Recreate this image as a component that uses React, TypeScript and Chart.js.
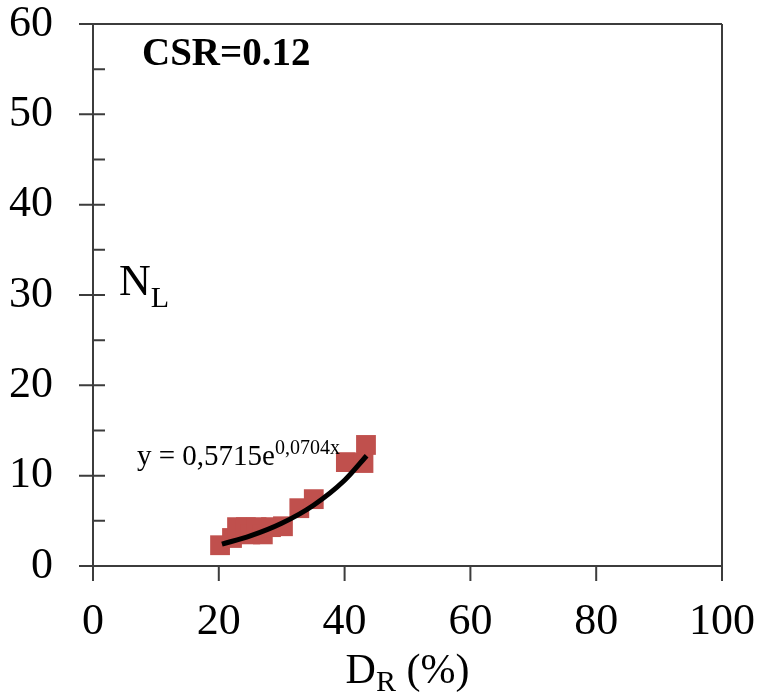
import React, { useEffect, useRef } from "react";
import { Chart, registerables } from "chart.js";

Chart.register(...registerables);

// Data
const drValues = [20.2, 22.1, 22.9, 24.3, 25.0, 26.0, 27.0, 28.3, 30.2, 32.8, 35.1, 40.2, 43.0, 43.4];
const nlValues = [2.3, 3.1, 4.3, 4.3, 3.5, 4.3, 3.5, 4.3, 4.4, 6.4, 7.4, 11.5, 11.4, 13.4];

// Trend line (y = 0,5715e^0,0704x) points
const trendX = [20.5, 25, 30, 35, 40, 43.5];
const trendY = [2.42, 3.33, 4.73, 6.7, 9.49, 12.2];

const xTicks = [0, 20, 40, 60, 80, 100];
const yTicks = [0, 10, 20, 30, 40, 50, 60];
const yMinorTicks = [5, 15, 25, 35, 45, 55];

const csrLabel = "CSR=0.12";
const eqMain = "y = 0,5715e";
const eqSup = "0,0704x";

const FONT = "'Liberation Serif', 'Times New Roman', serif";
const AXIS_COLOR = "#3c3c3c";

const framePlugin = {
  id: "framePlugin",
  beforeDatasetsDraw(chart: any) {
    const { ctx, chartArea, scales } = chart;
    const xs = scales.x;
    const ys = scales.y;
    const left = chartArea.left;
    const right = chartArea.right;
    const top = chartArea.top;
    const bottom = chartArea.bottom;
    ctx.save();
    ctx.strokeStyle = AXIS_COLOR;
    ctx.lineWidth = 2;
    ctx.beginPath();
    ctx.moveTo(left, top);
    ctx.lineTo(right, top);
    ctx.moveTo(right, top);
    ctx.lineTo(right, bottom);
    ctx.moveTo(left, top);
    ctx.lineTo(left, bottom);
    ctx.moveTo(left - 14, bottom);
    ctx.lineTo(right, bottom);
    yTicks.forEach((v) => {
      const p = ys.getPixelForValue(v);
      ctx.moveTo(left - 14, p);
      ctx.lineTo(left + 12, p);
    });
    yMinorTicks.forEach((v) => {
      const p = ys.getPixelForValue(v);
      ctx.moveTo(left, p);
      ctx.lineTo(left + 12, p);
    });
    xTicks.forEach((v) => {
      const p = xs.getPixelForValue(v);
      ctx.moveTo(p, bottom);
      ctx.lineTo(p, bottom + 15);
    });
    ctx.stroke();
    ctx.restore();
  },
  afterDraw(chart: any) {
    const { ctx, chartArea } = chart;
    ctx.save();
    ctx.fillStyle = "#000";
    ctx.textBaseline = "alphabetic";
    ctx.textAlign = "left";

    ctx.font = `bold 39px ${FONT}`;
    ctx.fillText(csrLabel, 142, 65);

    ctx.font = `44px ${FONT}`;
    ctx.fillText("N", 119, 295);
    const nW = ctx.measureText("N").width;
    ctx.font = `30px ${FONT}`;
    ctx.fillText("L", 119 + nW, 307);

    ctx.font = `29px ${FONT}`;
    ctx.fillText(eqMain, 137, 465);
    const eW = ctx.measureText(eqMain).width;
    ctx.font = `20px ${FONT}`;
    ctx.fillText(eqSup, 137 + eW, 454);

    ctx.font = `42px ${FONT}`;
    const dW = ctx.measureText("D").width;
    const restW = ctx.measureText(" (%)").width;
    ctx.font = `30px ${FONT}`;
    const rW = ctx.measureText("R").width;
    const total = dW + rW + restW;
    const cx = (chartArea.left + chartArea.right) / 2;
    const x0 = cx - total / 2;
    ctx.font = `42px ${FONT}`;
    ctx.fillText("D", x0, 683);
    ctx.font = `30px ${FONT}`;
    ctx.fillText("R", x0 + dW, 691);
    ctx.font = `42px ${FONT}`;
    ctx.fillText(" (%)", x0 + dW + rW, 683);
    ctx.restore();
  },
};

const zeroPad = (scale: any) => {
  scale.paddingTop = 0;
  scale.paddingBottom = 0;
  scale.paddingLeft = 0;
  scale.paddingRight = 0;
};

export default function App() {
  const canvasRef = useRef<HTMLCanvasElement | null>(null);

  useEffect(() => {
    if (!canvasRef.current) return;
    const points = drValues.map((x, i) => ({ x, y: nlValues[i] }));
    const trend = trendX.map((x, i) => ({ x, y: trendY[i] }));
    const chart = new Chart(canvasRef.current, {
      type: "scatter",
      data: {
        datasets: [
          {
            label: "NL",
            data: points,
            pointStyle: "rect",
            pointRadius: 14,
            pointHoverRadius: 14,
            backgroundColor: "#c0504d",
            borderColor: "#c0504d",
            borderWidth: 0,
            order: 2,
          },
          {
            label: "trend",
            type: "line",
            data: trend,
            borderColor: "#000",
            borderWidth: 5,
            pointRadius: 0,
            cubicInterpolationMode: "monotone",
            fill: false,
            order: 1,
          } as any,
        ],
      },
      options: {
        animation: false,
        responsive: true,
        maintainAspectRatio: false,
        layout: { padding: { left: 0, right: 39, top: 24, bottom: 0 } },
        plugins: {
          legend: { display: false },
          tooltip: { enabled: false },
          title: { display: false },
        },
        scales: {
          x: {
            type: "linear",
            min: 0,
            max: 100,
            grid: { display: false, drawTicks: false },
            border: { display: false },
            ticks: {
              stepSize: 20,
              padding: 30,
              color: "#000",
              font: { family: FONT, size: 44 },
              maxRotation: 0,
            },
            afterFit: (scale: any) => {
              scale.height = 134;
              zeroPad(scale);
            },
          },
          y: {
            type: "linear",
            min: 0,
            max: 60,
            grid: { display: false, drawTicks: false },
            border: { display: false },
            ticks: {
              stepSize: 10,
              padding: 40,
              color: "#000",
              font: { family: FONT, size: 44 },
            },
            afterFit: (scale: any) => {
              scale.width = 93;
              zeroPad(scale);
            },
          },
        },
      },
      plugins: [framePlugin],
    });
    return () => chart.destroy();
  }, []);

  return (
    <div style={{ position: "absolute", left: 0, top: 0, width: 761, height: 700, background: "#fff" }}>
      <canvas ref={canvasRef} />
    </div>
  );
}
